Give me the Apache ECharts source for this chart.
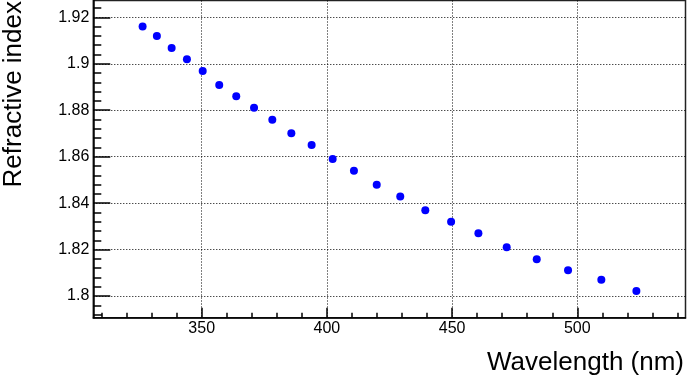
<!DOCTYPE html>
<html><head><meta charset="utf-8">
<script src="https://cdn.jsdelivr.net/npm/echarts@6/dist/echarts.min.js"></script>
<style>html,body{margin:0;padding:0;background:#fff}#c{width:687px;height:379px}</style>
</head><body><div id="c"></div>
<script>
const wavelength = [326.4, 332.1, 338.0, 344.1, 350.4, 357.0, 363.8, 370.9, 378.2, 385.8, 393.9, 402.3, 410.8, 419.9, 429.3, 439.3, 449.6, 460.5, 471.8, 483.8, 496.3, 509.6, 523.6];
const refractiveIndex = [1.9160, 1.9119, 1.9068, 1.9019, 1.8969, 1.8909, 1.8860, 1.8811, 1.8759, 1.8701, 1.8650, 1.8590, 1.8540, 1.8479, 1.8429, 1.8370, 1.8320, 1.8271, 1.8210, 1.8159, 1.8111, 1.8070, 1.8022];
const xMajorTicks = [350, 400, 450, 500];
const xMinorTicks = [310, 320, 330, 340, 360, 370, 380, 390, 410, 420, 430, 440, 460, 470, 480, 490, 510, 520, 530, 540];
const yMajorTicks = [1.80, 1.82, 1.84, 1.86, 1.88, 1.90, 1.92];
const yMinorTicks = [1.792, 1.796, 1.804, 1.808, 1.812, 1.816, 1.824, 1.828, 1.832, 1.836, 1.844, 1.848, 1.852, 1.856, 1.864, 1.868, 1.872, 1.876, 1.884, 1.888, 1.892, 1.896, 1.904, 1.908, 1.912, 1.916, 1.924];
const xTitle = 'Wavelength (nm)';
const yTitle = 'Refractive index';

const X_MIN = 306.71, X_MAX = 543.21, Y_MIN = 1.7907, Y_MAX = 1.92723;
const FONT = '"Liberation Sans", Arial, sans-serif';
const chart = echarts.init(document.getElementById('c'), null, {renderer: 'canvas'});
const lineW = 1.5;
function fmt(v){ return String(+(+v).toFixed(3)); }

chart.setOption({
  animation: false,
  backgroundColor: '#fff',
  grid: {left: 93.3, right: 1.5, top: 0.5, bottom: 61.3, containLabel: false, outerBoundsMode: 'none',
         show: true, borderColor: '#222', borderWidth: 1.5, backgroundColor: 'transparent'},
  xAxis: [
    {type: 'value', min: X_MIN, max: X_MAX, position: 'bottom',
     axisLine: {show: true, onZero: false, lineStyle: {color: '#000', width: lineW}},
     axisTick: {show: true, inside: true, length: 10, customValues: xMajorTicks, lineStyle: {color: '#000', width: lineW}},
     axisLabel: {show: true, customValues: xMajorTicks, margin: 3, color: '#000', fontSize: 16, fontFamily: FONT, formatter: fmt},
     splitLine: {show: true, lineStyle: {color: '#000', width: 1, type: [1, 2]}},
     minorTick: {show: false}},
    {type: 'value', min: X_MIN, max: X_MAX, position: 'bottom',
     axisLine: {show: false, onZero: false},
     axisTick: {show: true, inside: true, length: 5, customValues: xMinorTicks, lineStyle: {color: '#000', width: lineW}},
     axisLabel: {show: false},
     splitLine: {show: false}}
  ],
  yAxis: [
    {type: 'value', min: Y_MIN, max: Y_MAX, position: 'left',
     axisLine: {show: true, onZero: false, lineStyle: {color: '#000', width: lineW}},
     axisTick: {show: true, inside: true, length: 17, customValues: yMajorTicks, lineStyle: {color: '#000', width: lineW}},
     axisLabel: {show: true, customValues: yMajorTicks, margin: 4, color: '#000', fontSize: 16, fontFamily: FONT, formatter: fmt},
     splitLine: {show: true, lineStyle: {color: '#000', width: 1, type: [1, 2]}}},
    {type: 'value', min: Y_MIN, max: Y_MAX, position: 'left',
     axisLine: {show: false, onZero: false},
     axisTick: {show: true, inside: true, length: 8, customValues: yMinorTicks, lineStyle: {color: '#000', width: lineW}},
     axisLabel: {show: false},
     splitLine: {show: false}}
  ],
  graphic: [
    {type: 'text', x: 13.6, y: 1, rotation: Math.PI / 2,
     style: {text: yTitle, font: '26px ' + FONT, fill: '#000', align: 'right', verticalAlign: 'middle'}},
    {type: 'text', x: 684, y: 362.5,
     style: {text: xTitle, font: '26px ' + FONT, fill: '#000', align: 'right', verticalAlign: 'middle'}}
  ],
  series: [{
    type: 'scatter', xAxisIndex: 0, yAxisIndex: 0,
    data: wavelength.map((w, i) => [w, refractiveIndex[i]]),
    symbol: 'circle', symbolSize: 8,
    itemStyle: {color: '#0000ff', borderWidth: 0, opacity: 1}
  }]
});
</script></body></html>
